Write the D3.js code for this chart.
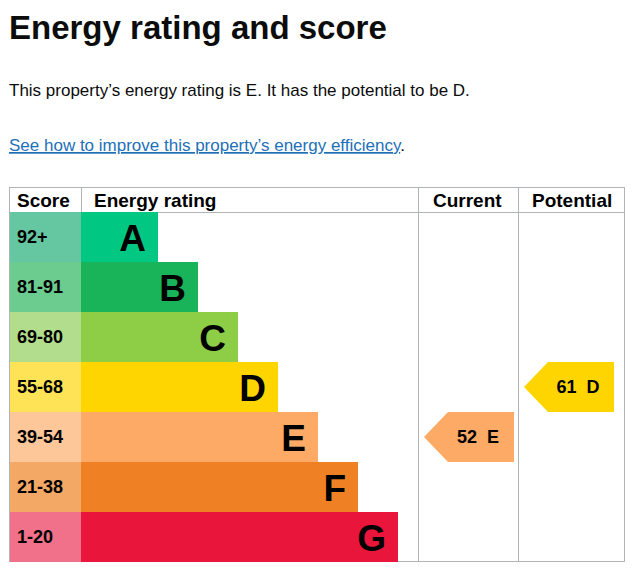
<!DOCTYPE html>
<meta charset="utf-8">
<style>
html, body { margin: 0; overflow: hidden; background: #fff; }
svg text { font-family: "Liberation Sans", Arial, sans-serif; }
</style>
<body>
<script src="https://d3js.org/d3.v7.min.js"></script>
<script>
var bands = ["A", "B", "C", "D", "E", "F", "G"],
  scores = ["92+", "81-91", "69-80", "55-68", "39-54", "21-38", "1-20"],
  bandColors = ["#00c781", "#19b459", "#8dce46", "#ffd500", "#fcaa65", "#ef8023", "#e9153b"],
  scoreColors = ["#64c7a2", "#6ccb8f", "#b2dd8c", "#ffe356", "#fdc79a", "#f4a865", "#f07189"],
  barEnds = [158, 198, 238, 278, 318, 358, 398];
var current = { score: 52, band: "E" },
  potential = { score: 61, band: "D" };

var width = 635, height = 569;
var svg = d3.select("body").append("svg").attr("width", width).attr("height", height);

svg.append("text").attr("x", 9).attr("y", 39).text("Energy rating and score")
  .style("font-family", "'Liberation Sans', Arial, sans-serif")
  .attr("font-size", 33).attr("font-weight", "bold").attr("fill", "#0b0c0c");
svg.append("text").attr("x", 9).attr("y", 96)
  .text("This property\u2019s energy rating is E. It has the potential to be D.")
  .attr("font-size", 17).attr("fill", "#0b0c0c");
var link = svg.append("text").attr("x", 9).attr("y", 151).attr("font-size", 17);
link.append("tspan").attr("fill", "#1d70b8").attr("text-decoration", "underline")
  .text("See how to improve this property\u2019s energy efficiency");
link.append("tspan").attr("fill", "#0b0c0c").text(".");

var y = d3.scaleBand().domain(bands).range([212, 562]);
var x = d3.scaleLinear().domain([0, 1]).range([0, 1]);

var g = svg.append("g");
// grid
var grid = "#b1b4b6";
g.append("line").attr("x1", 9).attr("x2", 625).attr("y1", 187.5).attr("y2", 187.5).attr("stroke", grid);
g.append("line").attr("x1", 9).attr("x2", 625).attr("y1", 212.5).attr("y2", 212.5).attr("stroke", grid);
g.append("line").attr("x1", 9).attr("x2", 625).attr("y1", 561.5).attr("y2", 561.5).attr("stroke", grid);
[9.5, 81.5, 418.5, 518.5, 624.5].forEach(function (cx, i) {
  g.append("line").attr("x1", cx).attr("x2", cx).attr("y1", 187).attr("y2", i == 1 ? 212 : 562).attr("stroke", grid);
});

var headers = [["Score", 17], ["Energy rating", 94], ["Current", 433], ["Potential", 532]];
g.selectAll(".h").data(headers).enter().append("text")
  .attr("x", function (d) { return d[1]; }).attr("y", 207)
  .attr("font-size", 19).attr("font-weight", "bold").text(function (d) { return d[0]; });

var rows = g.selectAll(".row").data(bands).enter().append("g");
rows.append("rect").attr("x", 10).attr("y", function (d) { return y(d); })
  .attr("width", 71).attr("height", y.bandwidth())
  .attr("fill", function (d, i) { return scoreColors[i]; });
rows.append("rect").attr("x", 81).attr("y", function (d) { return y(d); })
  .attr("width", function (d, i) { return x(barEnds[i]) - 81; }).attr("height", y.bandwidth())
  .attr("fill", function (d, i) { return bandColors[i]; });
rows.append("text").attr("x", 17).attr("y", function (d) { return y(d) + 31; })
  .attr("font-size", 18).attr("font-weight", "bold").text(function (d, i) { return scores[i]; });
rows.append("text").attr("x", function (d, i) { return x(barEnds[i]) - 12; })
  .attr("y", function (d) { return y(d) + 39; }).attr("text-anchor", "end")
  .attr("font-size", 37).attr("font-weight", "bold").text(function (d) { return d; });

function arrow(r, left) {
  var i = bands.indexOf(r.band), top = y(r.band), h = y.bandwidth();
  var right = left + 90;
  g.append("path").attr("d", "M" + left + "," + (top + h / 2) + "L" + (left + 24) + "," + top +
    "L" + right + "," + top + "L" + right + "," + (top + h) + "L" + (left + 24) + "," + (top + h) + "Z")
    .attr("fill", bandColors[i]);
  g.append("text").attr("x", left + 54).attr("y", top + 31).attr("text-anchor", "middle")
    .attr("font-size", 18).attr("font-weight", "bold").attr("xml:space", "preserve")
    .text(r.score + "  " + r.band);
}
arrow(current, 424);
arrow(potential, 524);
</script>
